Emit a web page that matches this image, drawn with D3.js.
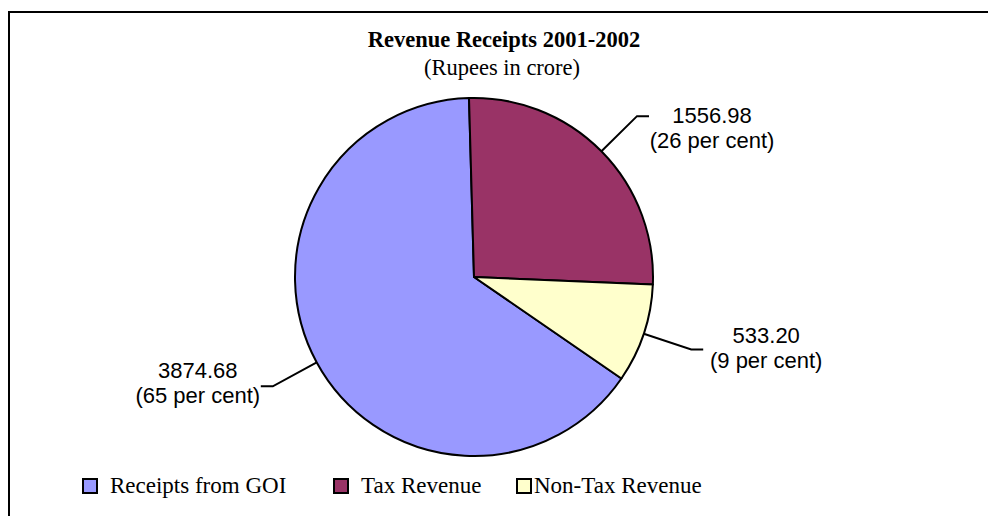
<!DOCTYPE html>
<html>
<head>
<meta charset="utf-8">
<script src="https://cdn.jsdelivr.net/npm/d3@7"></script>
<style>
  body { margin: 0; background: #fff; }
  svg { display: block; }
</style>
</head>
<body>
<div id="chart"></div>
<script>
// Data
const categories = ['Receipts from GOI', 'Tax Revenue', 'Non-Tax Revenue']
const amounts = [3874.68, 1556.98, 533.20]
const amountLabels = ['3874.68', '1556.98', '533.20']
const percentLabels = ['(65 per cent)', '(26 per cent)', '(9 per cent)']
const colors = ['#9999ff', '#993366', '#ffffcc']

const width = 988
const height = 516
const cx = 474
const cy = 277
const radius = 179

const svg = d3.select('#chart')
  .append('svg')
  .attr('width', width)
  .attr('height', height)

// chart frame (runs off right and bottom)
svg.append('rect')
  .attr('x', 9).attr('y', 12)
  .attr('width', 1000).attr('height', 520)
  .attr('fill', 'none')
  .attr('stroke', '#000')
  .attr('stroke-width', 2)

// title
svg.append('text')
  .attr('x', 504).attr('y', 47)
  .attr('text-anchor', 'middle')
  .style('font', 'bold 22.5px "Liberation Serif", "Times New Roman", serif')
  .text('Revenue Receipts 2001-2002')
svg.append('text')
  .attr('x', 502).attr('y', 75)
  .attr('text-anchor', 'middle')
  .style('font', '22.5px "Liberation Serif", "Times New Roman", serif')
  .text('(Rupees in crore)')

// pie: tax revenue slice starts just left of 12 o'clock
const total = d3.sum(amounts)
const startDeg = -1.6 - 360 * amounts[0] / total
const start = startDeg * Math.PI / 180
const pie = d3.pie().sort(null).startAngle(start).endAngle(start + 2 * Math.PI)
const arcs = pie(amounts)

const arc = d3.arc().innerRadius(0).outerRadius(radius)
const edgeArc = d3.arc().innerRadius(radius).outerRadius(radius)
const elbowArc = d3.arc().innerRadius(229).outerRadius(229)

const g = svg.append('g').attr('transform', `translate(${cx},${cy})`)

g.selectAll('path.slice')
  .data(arcs)
  .join('path')
  .attr('class', 'slice')
  .attr('d', arc)
  .attr('fill', (d, i) => colors[i])
  .attr('stroke', '#000')
  .attr('stroke-width', 2)
  .attr('stroke-linejoin', 'round')

// leader lines + labels
const labelShift = [-8, 7, -7]
arcs.forEach((d, i) => {
  const p0 = edgeArc.centroid(d)
  const p1 = elbowArc.centroid(d)
  const side = p1[0] > 0 ? 1 : -1
  const p2 = [p1[0] + 12 * side, p1[1]]
  g.append('polyline')
    .attr('points', [p0, p1, p2].map(p => p.join(',')).join(' '))
    .attr('fill', 'none')
    .attr('stroke', '#000')
    .attr('stroke-width', 2)
  const tx = p2[0] + 63 * side
  const t = g.append('text')
    .attr('text-anchor', 'middle')
    .style('font', '22px "Liberation Sans", Arial, sans-serif')
  t.append('tspan').attr('x', tx).attr('y', p1[1] + labelShift[i]).text(amountLabels[i])
  t.append('tspan').attr('x', tx).attr('y', p1[1] + labelShift[i] + 25).text(percentLabels[i])
})

// legend
const legendX = [83, 334, 517]
const legend = svg.append('g')
  .selectAll('g')
  .data(categories)
  .join('g')
  .attr('transform', (d, i) => `translate(${legendX[i]},479)`)
legend.append('rect')
  .attr('width', 14).attr('height', 14)
  .attr('fill', (d, i) => colors[i])
  .attr('stroke', '#000')
  .attr('stroke-width', 2)
legend.append('text')
  .attr('x', (d, i) => i === 2 ? 17 : 27)
  .attr('y', 14)
  .style('font', '23px "Liberation Serif", "Times New Roman", serif')
  .text(d => d)
</script>
</body>
</html>
